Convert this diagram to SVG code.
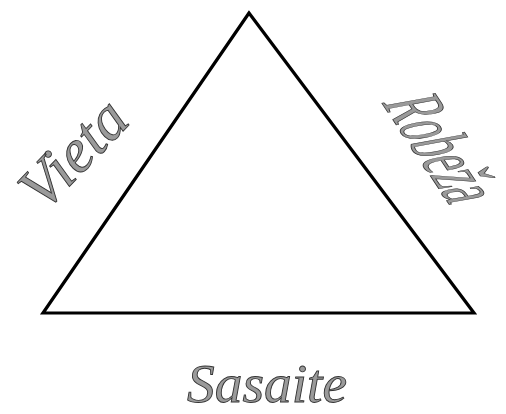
<svg xmlns="http://www.w3.org/2000/svg" width="506" height="414" viewBox="0 0 506 414">
  <style>
    .lbl { fill: #9a9a9a; stroke: #333333; stroke-width: 0.9; }
    .tri { fill: #ffffff; stroke: #000000; stroke-width: 3.2; stroke-linejoin: miter; }
  </style>
  <rect width="506" height="414" fill="#ffffff"/>
  <g id="triangle">
    <polygon class="tri" points="249,13 43,313 474,313"/>
  </g>
  <g id="label-vieta">
    <text class="lbl" font-family="Liberation Serif" font-size="62" font-style="italic" transform="translate(44,213) rotate(-46)">Vieta</text>
  </g>
  <g id="label-robeza">
    <text class="lbl" font-family="Liberation Serif" font-size="85" transform="matrix(0.27 0.405 -0.96 0.175 381 102)">Robeža</text>
  </g>
  <g id="label-sasaite">
    <text class="lbl" font-family="Liberation Serif" font-size="54" font-style="italic" x="187" y="402" textLength="160" lengthAdjust="spacingAndGlyphs">Sasaite</text>
  </g>
</svg>
